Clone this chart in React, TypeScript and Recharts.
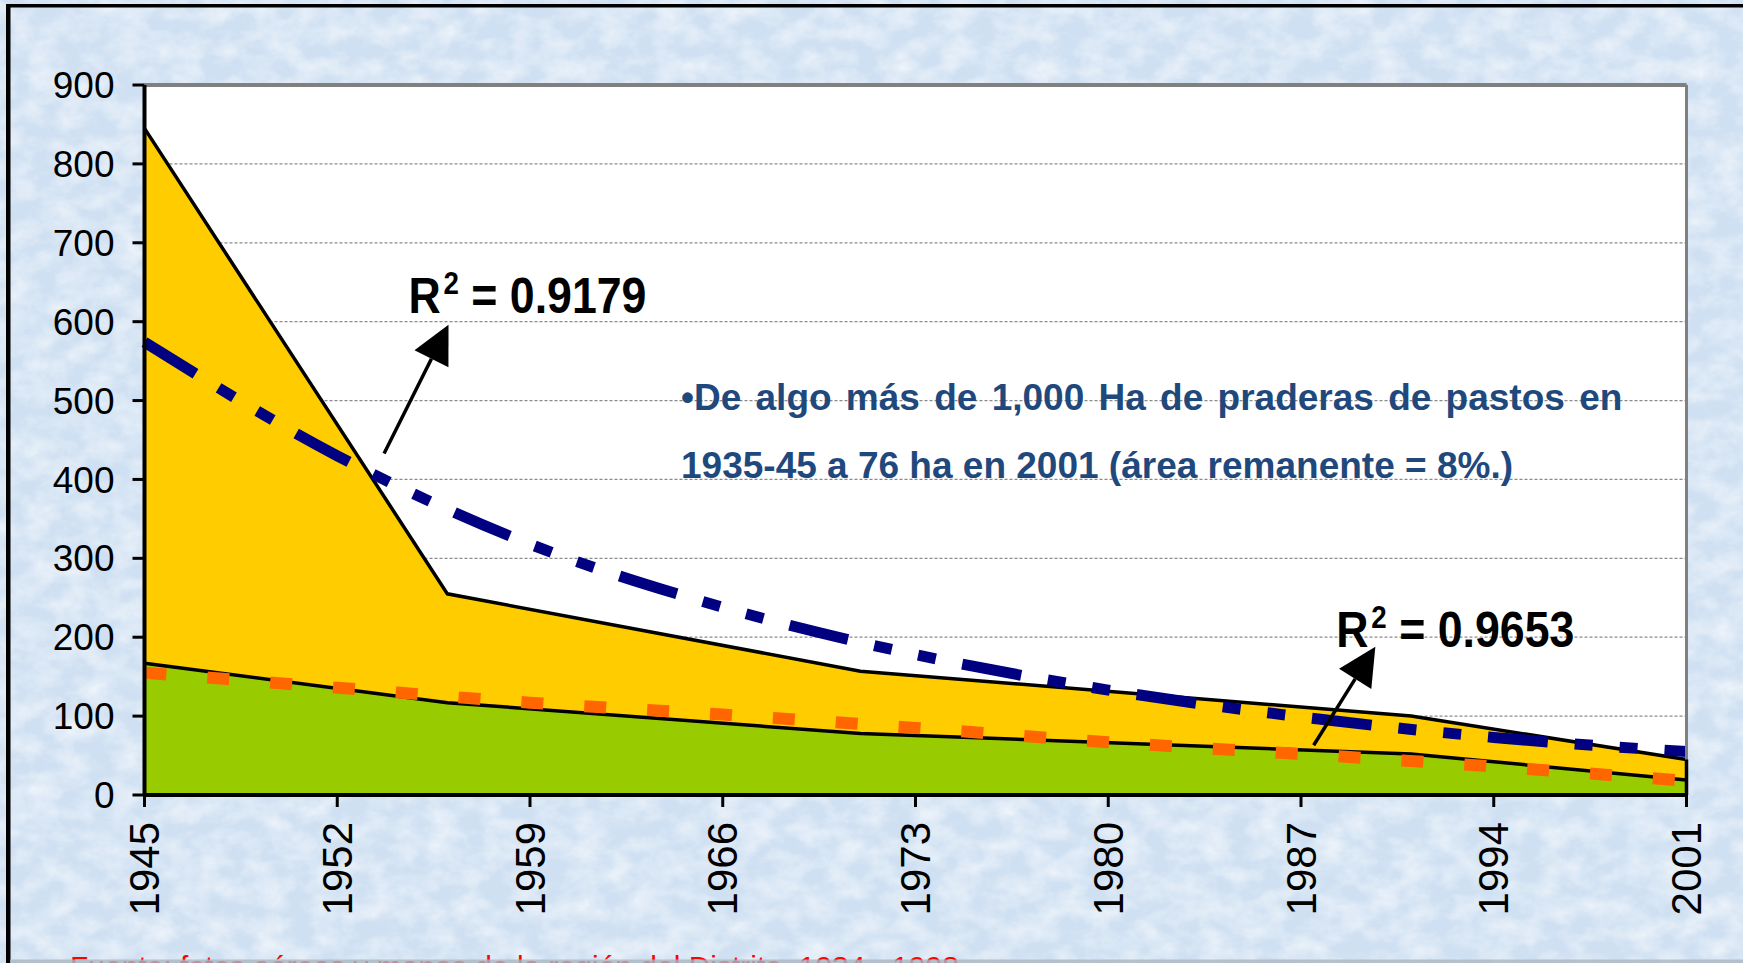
import React from 'react';
import { ComposedChart, Area, Line, XAxis, YAxis, CartesianGrid, ReferenceLine } from 'recharts';

// pasture area (ha) at the years where the series bends
const areaYears = [1945, 1956, 1971, 1991, 2001];
const pastureTotal = [845, 255, 157, 100, 45];
const pastureRemnant = [167, 117, 78, 52, 19];

// trend lines read at the axis tick years
const tickYears = [1945, 1952, 1959, 1966, 1973, 1980, 1987, 1994, 2001];
const expTrend = [574, 430, 318, 238, 178, 133, 99, 73, 55];
const polyTrend = [155, 136, 117, 102, 85, 67, 52, 36, 18];

const yTicks = [0, 100, 200, 300, 400, 500, 600, 700, 800, 900];

const allYears = Array.from(new Set([...areaYears, ...tickYears])).sort((a, b) => a - b);
const data = allYears.map((year) => {
  const a = areaYears.indexOf(year);
  const t = tickYears.indexOf(year);
  return {
    year,
    total: a >= 0 ? pastureTotal[a] : null,
    remnant: a >= 0 ? pastureRemnant[a] : null,
    exp: t >= 0 ? expTrend[t] : null,
    poly: t >= 0 ? polyTrend[t] : null,
  };
});

const FONT = '"Liberation Sans", Arial, sans-serif';
const lastYear = areaYears[areaYears.length - 1];
const lastTotal = pastureTotal[pastureTotal.length - 1];

const XTick = ({ x, y, payload }: any) => (
  <text
    x={x}
    y={y}
    transform={`rotate(-90, ${x}, ${y})`}
    textAnchor="end"
    dominantBaseline="central"
    fontFamily={FONT}
    fontSize={42}
    fill="#000"
  >
    {payload.value}
  </text>
);

const arrowShape = (r2: string, dx: number, dy: number) => (props: any) => {
  const { x1, y1, x2, y2 } = props;
  if ([x1, y1, x2, y2].some((v) => typeof v !== 'number' || isNaN(v))) return <g />;
  const len = Math.hypot(x2 - x1, y2 - y1);
  const ux = (x2 - x1) / len;
  const uy = (y2 - y1) / len;
  const headLen = 38;
  const headW = 19;
  const bx = x2 - ux * headLen;
  const by = y2 - uy * headLen;
  const px = -uy;
  const py = ux;
  return (
    <g>
      <line x1={x1} y1={y1} x2={bx} y2={by} stroke="#000" strokeWidth={3.5} />
      <polygon
        points={`${x2},${y2} ${bx + px * headW},${by + py * headW} ${bx - px * headW},${by - py * headW}`}
        fill="#000"
      />
      <text
        x={x2 + dx}
        y={y2 + dy}
        fontFamily={FONT}
        fontWeight="bold"
        fontSize={50}
        fill="#000"
        textLength={238}
        lengthAdjust="spacingAndGlyphs"
      >
        R
        <tspan dx={3} dy={-19} fontSize={31}>
          2
        </tspan>
        <tspan dy={19}>{' = ' + r2}</tspan>
      </text>
    </g>
  );
};

export default function App() {
  return (
    <div
      style={{
        position: 'fixed',
        left: 0,
        top: 0,
        width: 1743,
        height: 963,
        overflow: 'hidden',
        background: '#d6e6f5',
      }}
    >
      <svg width={1743} height={963} style={{ position: 'absolute', left: 0, top: 0 }}>
        <defs>
          <filter id="marble" x="0" y="0" width="100%" height="100%">
            <feTurbulence type="fractalNoise" baseFrequency="0.035 0.05" numOctaves={4} seed={7} />
            <feColorMatrix
              type="matrix"
              values="0 0 0 0 1  0 0 0 0 1  0 0 0 0 1  0 0 0 -1.4 0.95"
            />
          </filter>
        </defs>
        <rect width={1743} height={963} fill="#cfe0f2" />
        <rect width={1743} height={963} filter="url(#marble)" opacity={0.75} />
      </svg>
      <div style={{ position: 'absolute', left: 0, top: 0 }}>
        <ComposedChart
          width={1743}
          height={963}
          data={data}
          margin={{ top: 85, right: 56.5, bottom: 0, left: 0 }}
        >
          <CartesianGrid
            horizontal
            vertical={false}
            fill="#ffffff"
            fillOpacity={1}
            stroke="#8a8a8a"
            strokeDasharray="3 2"
            strokeWidth={1.2}
          />
          <XAxis
            dataKey="year"
            type="number"
            domain={[1945, 2001]}
            ticks={tickYears}
            interval={0}
            height={168}
            tickSize={12}
            tickMargin={15}
            axisLine={{ stroke: '#000', strokeWidth: 4 }}
            tickLine={{ stroke: '#000', strokeWidth: 3 }}
            tick={<XTick />}
          />
          <YAxis
            type="number"
            domain={[0, 900]}
            ticks={yTicks}
            interval={0}
            width={144.5}
            tickSize={12}
            tickMargin={18}
            axisLine={{ stroke: '#000', strokeWidth: 4 }}
            tickLine={{ stroke: '#000', strokeWidth: 3 }}
            tick={{ fill: '#000', fontSize: 37, fontFamily: FONT }}
          />
          <Area
            type="linear"
            dataKey="total"
            connectNulls
            stroke="#000"
            strokeWidth={3.5}
            fill="#FFCC00"
            fillOpacity={1}
            dot={false}
            activeDot={false}
            isAnimationActive={false}
          />
          <Area
            type="linear"
            dataKey="remnant"
            connectNulls
            stroke="#000"
            strokeWidth={3.5}
            fill="#99CC00"
            fillOpacity={1}
            dot={false}
            activeDot={false}
            isAnimationActive={false}
          />
          <Line
            type="monotone"
            dataKey="exp"
            connectNulls
            stroke="#000080"
            strokeWidth={11}
            strokeDasharray="60 27 18 27 18 27"
            dot={false}
            activeDot={false}
            isAnimationActive={false}
          />
          <Line
            type="monotone"
            dataKey="poly"
            connectNulls
            stroke="#FF6600"
            strokeWidth={12}
            strokeDasharray="22 41"
            dot={false}
            activeDot={false}
            isAnimationActive={false}
          />
          <ReferenceLine y={900} stroke="#808080" strokeWidth={4} />
          <ReferenceLine x={2001} stroke="#808080" strokeWidth={3} />
          <ReferenceLine
            segment={[
              { x: lastYear, y: 0 },
              { x: lastYear, y: lastTotal },
            ]}
            stroke="#000"
            strokeWidth={3.5}
          />
          <ReferenceLine
            segment={[
              { x: 1953.7, y: 433 },
              { x: 1956.04, y: 596 },
            ]}
            shape={arrowShape('0.9179', -40, -12)}
          />
          <ReferenceLine
            segment={[
              { x: 1987.46, y: 63 },
              { x: 1989.7, y: 188 },
            ]}
            shape={arrowShape('0.9653', -39, 0)}
          />
        </ComposedChart>
      </div>
      <svg
        width={1743}
        height={963}
        style={{ position: 'absolute', left: 0, top: 0, pointerEvents: 'none' }}
      >
        <rect x={6} y={4} width={1737} height={3.5} fill="#000" />
        <rect x={6} y={4} width={4.5} height={959} fill="#000" />
        <text
          x={681}
          y={410}
          fontFamily={FONT}
          fontWeight="bold"
          fontSize={37}
          fill="#1F497D"
          wordSpacing={4}
        >
          •De algo más de 1,000 Ha de praderas de pastos en
        </text>
        <text x={681} y={478} fontFamily={FONT} fontWeight="bold" fontSize={37} fill="#1F497D">
          1935-45 a 76 ha en 2001 (área remanente = 8%.)
        </text>
        <text x={70} y={977} fontFamily={FONT} fontSize={30} fill="#FF0000">
          Fuente: fotos aéreas y mapas de la región del Distrito, 1934 - 1998
        </text>
        <rect x={10} y={959.5} width={1733} height={3.5} fill="#aab6c2" opacity={0.8} />
      </svg>
    </div>
  );
}
